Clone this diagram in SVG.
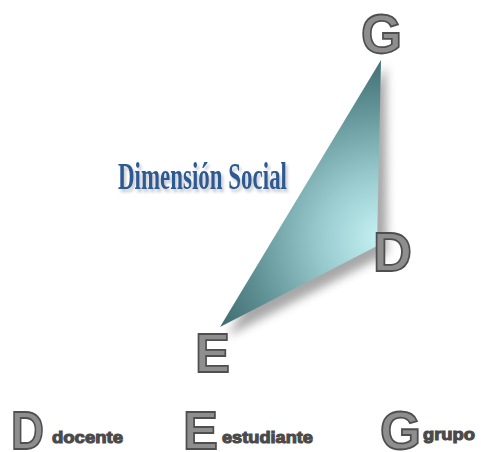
<svg xmlns="http://www.w3.org/2000/svg" width="481" height="452" viewBox="0 0 481 452">
  <style>
    .big { font-family: "Liberation Sans", Arial, sans-serif; font-weight: bold; font-size: 56px; fill: #8e8e8e; stroke: #4f4f4f; stroke-width: 1.8; }
    .leg { font-size: 54px; }
    .small { font-family: "Liberation Sans", Arial, sans-serif; font-weight: bold; font-size: 17px; fill: #4a4a4a; stroke: #4a4a4a; stroke-width: 1.1; }
    .title { font-family: "Liberation Serif", "Times New Roman", serif; font-weight: bold; font-size: 37px; fill: #2d5a92; }
  </style>
  <defs>
    <radialGradient id="tri" gradientUnits="userSpaceOnUse" cx="382" cy="238" r="190">
      <stop offset="0" stop-color="#c6f3f5"/>
      <stop offset="0.35" stop-color="#96c8cb"/>
      <stop offset="0.7" stop-color="#5f9093"/>
      <stop offset="1" stop-color="#3b686c"/>
    </radialGradient>
    <filter id="blur" x="-20%" y="-20%" width="140%" height="140%">
      <feGaussianBlur stdDeviation="5"/>
    </filter>
    <filter id="tshadow" x="-10%" y="-30%" width="120%" height="160%">
      <feGaussianBlur in="SourceAlpha" stdDeviation="1.5"/>
      <feOffset dx="2" dy="3" result="o"/>
      <feFlood flood-color="#9aa3ad" flood-opacity="0.6"/>
      <feComposite in2="o" operator="in"/>
      <feMerge><feMergeNode/><feMergeNode in="SourceGraphic"/></feMerge>
    </filter>
  </defs>

  <g id="triangle">
    <polygon points="386,66 387,254 228,336" fill="#8a8a8a" opacity="0.75" filter="url(#blur)"/>
    <polygon points="381,60 377,246 220,327" fill="url(#tri)"/>
  </g>

  <g id="title" filter="url(#tshadow)">
    <text class="title" x="118" y="189" textLength="169" lengthAdjust="spacingAndGlyphs">Dimensión Social</text>
  </g>

  <g id="node-G">
    <text class="big" x="361" y="53" textLength="41" lengthAdjust="spacingAndGlyphs">G</text>
  </g>
  <g id="node-D">
    <text class="big" x="373" y="271" textLength="39" lengthAdjust="spacingAndGlyphs">D</text>
  </g>
  <g id="node-E">
    <text class="big" x="195" y="372" textLength="35" lengthAdjust="spacingAndGlyphs">E</text>
  </g>

  <g id="legend-D">
    <text class="big leg" x="11" y="449" textLength="33" lengthAdjust="spacingAndGlyphs">D</text>
    <text class="small" x="52" y="443" textLength="71" lengthAdjust="spacingAndGlyphs">docente</text>
  </g>
  <g id="legend-E">
    <text class="big leg" x="183" y="449" textLength="35" lengthAdjust="spacingAndGlyphs">E</text>
    <text class="small" x="222" y="443" textLength="91" lengthAdjust="spacingAndGlyphs">estudiante</text>
  </g>
  <g id="legend-G">
    <text class="big leg" x="380" y="449" textLength="41" lengthAdjust="spacingAndGlyphs">G</text>
    <text class="small" x="423" y="440" textLength="52" lengthAdjust="spacingAndGlyphs">grupo</text>
  </g>
</svg>
